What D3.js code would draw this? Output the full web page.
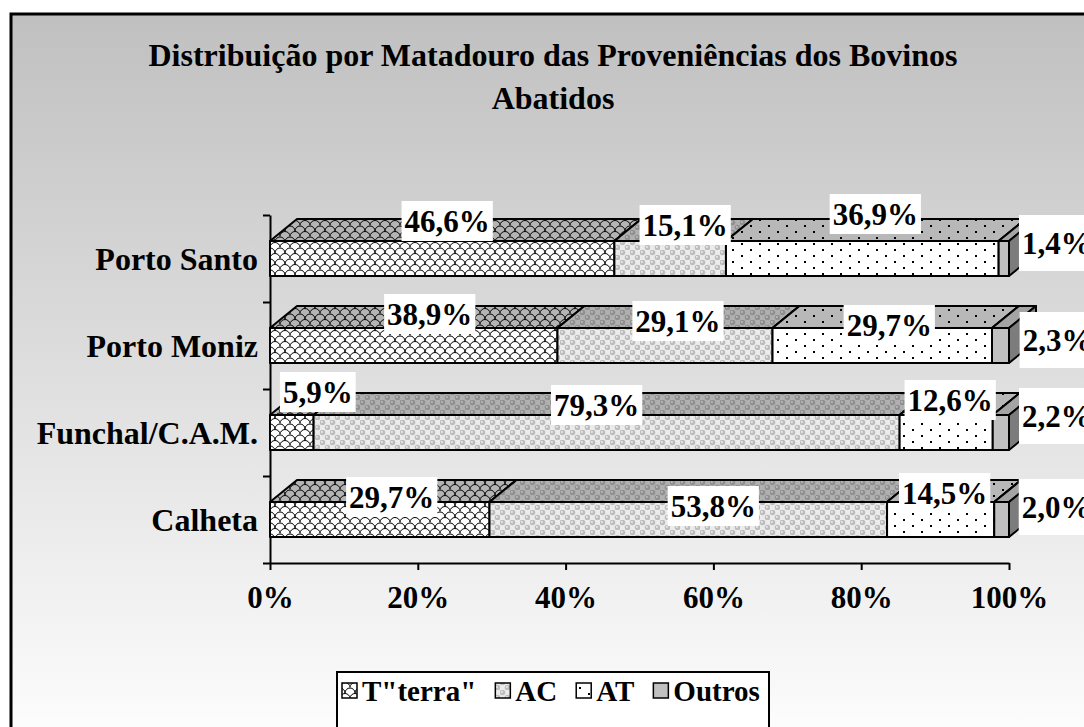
<!DOCTYPE html>
<html>
<head>
<meta charset="utf-8">
<script src="https://cdn.jsdelivr.net/npm/d3@7"></script>
<style>
  body { margin: 0; background: #fff; }
  text { font-family: "Liberation Serif", "Times New Roman", serif; font-weight: bold; fill: #000; }
</style>
</head>
<body>
<div id="chart"></div>
<script>
// Chart data
var categories = ["Porto Santo", "Porto Moniz", "Funchal/C.A.M.", "Calheta"];
var seriesNames = ['T"terra"', "AC", "AT", "Outros"];
var tTerra = [46.6, 38.9, 5.9, 29.7];
var ac = [15.1, 29.1, 79.3, 53.8];
var at = [36.9, 29.7, 12.6, 14.5];
var outros = [1.4, 2.3, 2.2, 2.0];
var xTicks = [0, 20, 40, 60, 80, 100];

// Layout
var svgWidth = 1084;
var svgHeight = 727;
var plot = { left: 270, right: 1009, top: 215, bottom: 563 };
var depth = { dx: 27, dy: -22 };
var barHeight = 35;
var fontSize = 31;

// label nudges (x, y) from front-face centre / top edge, as placed in the original
var labelNudge = [
  [[5, -20], [15, -16], [13, -27], [53, 2]],
  [[16, -14], [13, -7], [7, -3], [57, 12]],
  [[26, -23], [-10, -10], [4, -15], [56, 1]],
  [[12, -5], [25, 4], [4, -9], [55, 5]]
];

var svg = d3.select("#chart")
  .append("svg")
  .attr("width", svgWidth)
  .attr("height", svgHeight);

var defs = svg.append("defs");

// background gradient
var grad = defs.append("linearGradient")
  .attr("id", "bg")
  .attr("x1", 0).attr("y1", 0).attr("x2", 0).attr("y2", 1);
grad.append("stop").attr("offset", "0%").attr("stop-color", "#c0c0c0");
grad.append("stop").attr("offset", "100%").attr("stop-color", "#ffffff");

// fill patterns
function makePattern(id, w, h, bg) {
  var p = defs.append("pattern")
    .attr("id", id)
    .attr("patternUnits", "userSpaceOnUse")
    .attr("width", w)
    .attr("height", h);
  p.append("rect").attr("width", w).attr("height", h).attr("fill", bg);
  return p;
}

function scales(id, bg) {
  var p = makePattern(id, 10, 11, bg);
  p.append("path")
    .attr("d", "M-5,11 A5,5 0 0 1 5,11 A5,5 0 0 1 15,11 M0,5.5 A5,5 0 0 1 10,5.5")
    .attr("fill", "none")
    .attr("stroke", "#000")
    .attr("stroke-width", 1);
}
scales("terraFront", "#ffffff");
scales("terraTop", "#b4b4b4");

function bubbles(id, bg, dot, hi) {
  var p = makePattern(id, 10, 10, bg);
  [[2.5, 2.5], [7.5, 7.5]].forEach(function(c) {
    p.append("circle").attr("cx", c[0]).attr("cy", c[1]).attr("r", 2.8).attr("fill", dot);
    p.append("circle").attr("cx", c[0] - 0.6).attr("cy", c[1] - 0.6).attr("r", 0.9).attr("fill", hi);
  });
}
bubbles("acFront", "#ececec", "#bdbdbd", "#f4f4f4");
bubbles("acTop", "#b0b0b0", "#909090", "#c4c4c4");

function dots(id, bg) {
  var p = makePattern(id, 18, 12, bg);
  p.append("rect").attr("x", 3).attr("y", 3).attr("width", 2).attr("height", 2).attr("fill", "#000");
  p.append("rect").attr("x", 12).attr("y", 9).attr("width", 2).attr("height", 2).attr("fill", "#000");
}
dots("atFront", "#ffffff");
dots("atTop", "#b8b8b8");

var frontFill = ["url(#terraFront)", "url(#acFront)", "url(#atFront)", "#c0c0c0"];
var topFill = ["url(#terraTop)", "url(#acTop)", "url(#atTop)", "#a4a4a4"];
var sideFill = ["#9a9a9a", "#9a9a9a", "#9a9a9a", "#7c7c7c"];

// chart area background with left/top border
svg.append("rect")
  .attr("x", 11).attr("y", 14)
  .attr("width", svgWidth + 20).attr("height", svgHeight + 20)
  .attr("fill", "url(#bg)")
  .attr("stroke", "#000")
  .attr("stroke-width", 3);

// title
var title = svg.append("text")
  .attr("text-anchor", "middle")
  .style("font-size", "32px");
title.append("tspan").attr("x", 553).attr("y", 66)
  .text("Distribuição por Matadouro das Proveniências dos Bovinos");
title.append("tspan").attr("x", 553).attr("y", 109)
  .text("Abatidos");

// scales
var xScale = d3.scaleLinear().domain([0, 100]).range([plot.left, plot.right]);
var yBand = d3.scaleBand().domain(categories).range([plot.top, plot.bottom]).padding(0);
var yTicks = d3.scaleLinear().domain([0, categories.length]).range([plot.bottom, plot.top]);

// stacked rows
var rows = categories.map(function(c, i) {
  return { cat: c, "T\"terra\"": tTerra[i], AC: ac[i], AT: at[i], Outros: outros[i] };
});
var stacked = d3.stack().keys(seriesNames)(rows);

// axes
var yAxis = svg.append("g")
  .attr("transform", "translate(" + plot.left + ",0)")
  .call(d3.axisLeft(yTicks).ticks(categories.length).tickFormat("").tickSize(7).tickSizeOuter(0));
var xAxis = svg.append("g")
  .attr("transform", "translate(0," + plot.bottom + ")")
  .call(d3.axisBottom(xScale).tickValues(xTicks).tickFormat(function(d) { return d + "%"; })
    .tickSize(7).tickSizeOuter(0).tickPadding(16));
[xAxis, yAxis].forEach(function(a) {
  a.selectAll("path, line").attr("stroke", "#000").attr("stroke-width", 2);
  a.selectAll("text").style("font-size", fontSize + "px").attr("font-family", null);
});

// category labels
svg.append("g").selectAll("text")
  .data(categories)
  .enter()
  .append("text")
  .attr("x", plot.left - 12)
  .attr("y", function(d) { return yBand(d) + yBand.bandwidth() / 2; })
  .attr("dy", "0.36em")
  .attr("text-anchor", "end")
  .style("font-size", "32px")
  .text(function(d) { return d; });

// 3D bars
var bars = svg.append("g");
function pts(a) { return a.map(function(p) { return p.join(","); }).join(" "); }

categories.forEach(function(c, ci) {
  var yT = yBand(c) + (yBand.bandwidth() - barHeight) / 2;
  var yB = yT + barHeight;
  stacked.forEach(function(s, si) {
    var x0 = xScale(s[ci][0]);
    var x1 = xScale(s[ci][1]);
    var g = bars.append("g")
      .attr("stroke", "#000")
      .attr("stroke-width", 2)
      .attr("stroke-linejoin", "round");
    g.append("polygon")
      .attr("points", pts([[x0, yT], [x1, yT], [x1 + depth.dx, yT + depth.dy], [x0 + depth.dx, yT + depth.dy]]))
      .attr("fill", topFill[si]);
    g.append("polygon")
      .attr("points", pts([[x1, yT], [x1 + depth.dx, yT + depth.dy], [x1 + depth.dx, yB + depth.dy], [x1, yB]]))
      .attr("fill", sideFill[si]);
    g.append("rect")
      .attr("x", x0).attr("y", yT)
      .attr("width", x1 - x0).attr("height", barHeight)
      .attr("fill", frontFill[si]);
  });
});

// data labels with white boxes
var labels = svg.append("g");
categories.forEach(function(c, ci) {
  var yT = yBand(c) + (yBand.bandwidth() - barHeight) / 2;
  stacked.forEach(function(s, si) {
    var v = s[ci].data[s.key];
    var cx = xScale((s[ci][0] + s[ci][1]) / 2) + labelNudge[ci][si][0];
    var cy = yT + labelNudge[ci][si][1];
    var g = labels.append("g");
    var box = g.append("rect").attr("fill", "#fff");
    var t = g.append("text")
      .attr("x", cx)
      .attr("y", cy)
      .attr("dy", "0.34em")
      .attr("text-anchor", "middle")
      .style("font-size", fontSize + "px")
      .text(v.toFixed(1).replace(".", ",") + "%");
    var w = t.node().getComputedTextLength();
    var bh = si === 3 ? 56 : 40;
    box.attr("x", cx - w / 2 - 3)
      .attr("y", cy - bh / 2)
      .attr("width", w + 6 + (si === 3 ? 40 : 0))
      .attr("height", bh);
  });
});

// legend
var legend = svg.append("g");
legend.append("rect")
  .attr("x", 337).attr("y", 672)
  .attr("width", 432).attr("height", 80)
  .attr("fill", "#fff")
  .attr("stroke", "#000")
  .attr("stroke-width", 2);
var lx = 342;
var swatchFill = ["url(#terraFront)", "url(#acFront)", "url(#atFront)", "#c0c0c0"];
seriesNames.forEach(function(name, i) {
  legend.append("rect")
    .attr("x", lx).attr("y", 683)
    .attr("width", 15).attr("height", 15)
    .attr("fill", swatchFill[i])
    .attr("stroke", "#000")
    .attr("stroke-width", 1.5);
  var t = legend.append("text")
    .attr("x", lx + 20)
    .attr("y", 701)
    .style("font-size", "29px")
    .text(name);
  lx += 20 + t.node().getComputedTextLength() + 19;
});
</script>
</body>
</html>
